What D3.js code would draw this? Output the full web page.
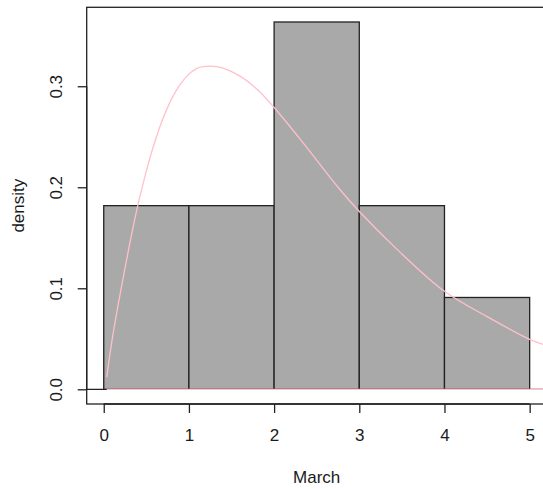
<!DOCTYPE html>
<html>
<head>
<meta charset="utf-8">
<script src="https://cdn.jsdelivr.net/npm/d3@7"></script>
<style>
  html, body { margin: 0; padding: 0; background: #fff; }
  svg { display: block; }
  text { font-family: "Liberation Sans", Arial, sans-serif; fill: #1a1a1a; }
</style>
</head>
<body>
<svg id="chart" width="543" height="489"></svg>
<script>
// Histogram of March values (density scale), breaks of width 1
const binEdges = [0, 1, 2, 3, 4, 5];
const binDensity = [0.1818, 0.1818, 0.3636, 0.1818, 0.0909];

// Fitted density curve (pink), sampled along x
const curveX = [0.035, 0.1, 0.2, 0.3, 0.4, 0.5, 0.6, 0.7, 0.8, 0.9, 1.0, 1.1, 1.25, 1.4, 1.6, 1.8, 2.0, 2.35, 2.75, 3.0, 3.45, 4.0, 4.5, 5.0, 5.25];
const curveY = [0.012, 0.05, 0.098, 0.142, 0.182, 0.216, 0.245, 0.269, 0.288, 0.302, 0.312, 0.318, 0.320, 0.318, 0.310, 0.297, 0.279, 0.243, 0.200, 0.176, 0.138, 0.097, 0.072, 0.0495, 0.042];

const xTicks = [0, 1, 2, 3, 4, 5];
const yTicks = [0, 0.1, 0.2, 0.3];
const yTickLabels = ["0.0", "0.1", "0.2", "0.3"];
const xTitle = "March";
const yTitle = "density";

const svg = d3.select("#chart");
const fontSize = 17;

// Plot region: data range padded by 4% on each side
const xMin = 0, xMax = 5, yMin = 0, yMax = d3.max(binDensity);
const xPad = (xMax - xMin) * 0.04, yPad = (yMax - yMin) * 0.04;
const box = { left: 86.7, right: 546.7, top: 7.3, bottom: 404 };

const x = d3.scaleLinear().domain([xMin - xPad, xMax + xPad]).range([box.left, box.right]);
const y = d3.scaleLinear().domain([yMin - yPad, yMax + yPad]).range([box.bottom, box.top]);

const ink = "#222";

// Zero reference line
svg.append("line")
  .attr("x1", box.left).attr("x2", box.right)
  .attr("y1", y(0)).attr("y2", y(0))
  .attr("stroke", ink).attr("stroke-width", 1.2);

// Bars
const bins = binDensity.map((d, i) => ({ x0: binEdges[i], x1: binEdges[i + 1], d }));
svg.append("g").selectAll("rect").data(bins).join("rect")
  .attr("x", b => x(b.x0))
  .attr("y", b => y(b.d))
  .attr("width", b => x(b.x1) - x(b.x0))
  .attr("height", b => y(0) - y(b.d))
  .attr("fill", "#a9a9a9")
  .attr("stroke", ink)
  .attr("stroke-width", 1.3);

// Density curve and its baseline
const pts = curveX.map((v, i) => [v, curveY[i]]);
const curveColor = "#ffc0cb";
svg.append("line")
  .attr("x1", x(curveX[0])).attr("x2", box.right)
  .attr("y1", y(0)).attr("y2", y(0))
  .attr("stroke", curveColor).attr("stroke-width", 1.3);
svg.append("path")
  .datum(pts)
  .attr("fill", "none")
  .attr("stroke", curveColor)
  .attr("stroke-width", 1.3)
  .attr("d", d3.line().x(p => x(p[0])).y(p => y(p[1])).curve(d3.curveCatmullRom.alpha(0.5)));

// Frame around the plot region
svg.append("rect")
  .attr("x", box.left).attr("y", box.top)
  .attr("width", box.right - box.left).attr("height", box.bottom - box.top)
  .attr("fill", "none").attr("stroke", ink).attr("stroke-width", 1.3);

// Bottom axis
const xAxis = d3.axisBottom(x).tickValues(xTicks).tickSize(9).tickPadding(16).tickFormat(d3.format("d"));
const gx = svg.append("g").attr("transform", `translate(0,${box.bottom})`).call(xAxis);
gx.select(".domain").attr("d", `M${x(xTicks[0])},0H${x(xTicks[xTicks.length - 1])}`).attr("stroke", ink).attr("stroke-width", 1.3);
gx.selectAll(".tick line").attr("stroke", ink).attr("stroke-width", 1.3);
gx.selectAll(".tick text").attr("font-size", fontSize).attr("fill", "#1a1a1a")
  .attr("font-family", "Liberation Sans, Arial, sans-serif");

// Left axis, labels rotated parallel to the axis
const yAxis = d3.axisLeft(y).tickValues(yTicks).tickSize(9).tickFormat((d, i) => yTickLabels[i]);
const gy = svg.append("g").attr("transform", `translate(${box.left},0)`).call(yAxis);
gy.select(".domain").attr("d", `M0,${y(yTicks[0])}V${y(yTicks[yTicks.length - 1])}`).attr("stroke", ink).attr("stroke-width", 1.3);
gy.selectAll(".tick line").attr("stroke", ink).attr("stroke-width", 1.3);
gy.selectAll(".tick text")
  .attr("font-size", fontSize).attr("fill", "#1a1a1a")
  .attr("font-family", "Liberation Sans, Arial, sans-serif")
  .attr("x", null).attr("dy", null)
  .attr("text-anchor", "middle")
  .attr("transform", "translate(-24.5,0) rotate(-90)");

// Axis titles
svg.append("text")
  .attr("x", x(2.5)).attr("y", 483)
  .attr("text-anchor", "middle").attr("font-size", fontSize)
  .text(xTitle);
svg.append("text")
  .attr("transform", `translate(23.5,${(box.top + box.bottom) / 2}) rotate(-90)`)
  .attr("text-anchor", "middle").attr("font-size", fontSize)
  .text(yTitle);
</script>
</body>
</html>
